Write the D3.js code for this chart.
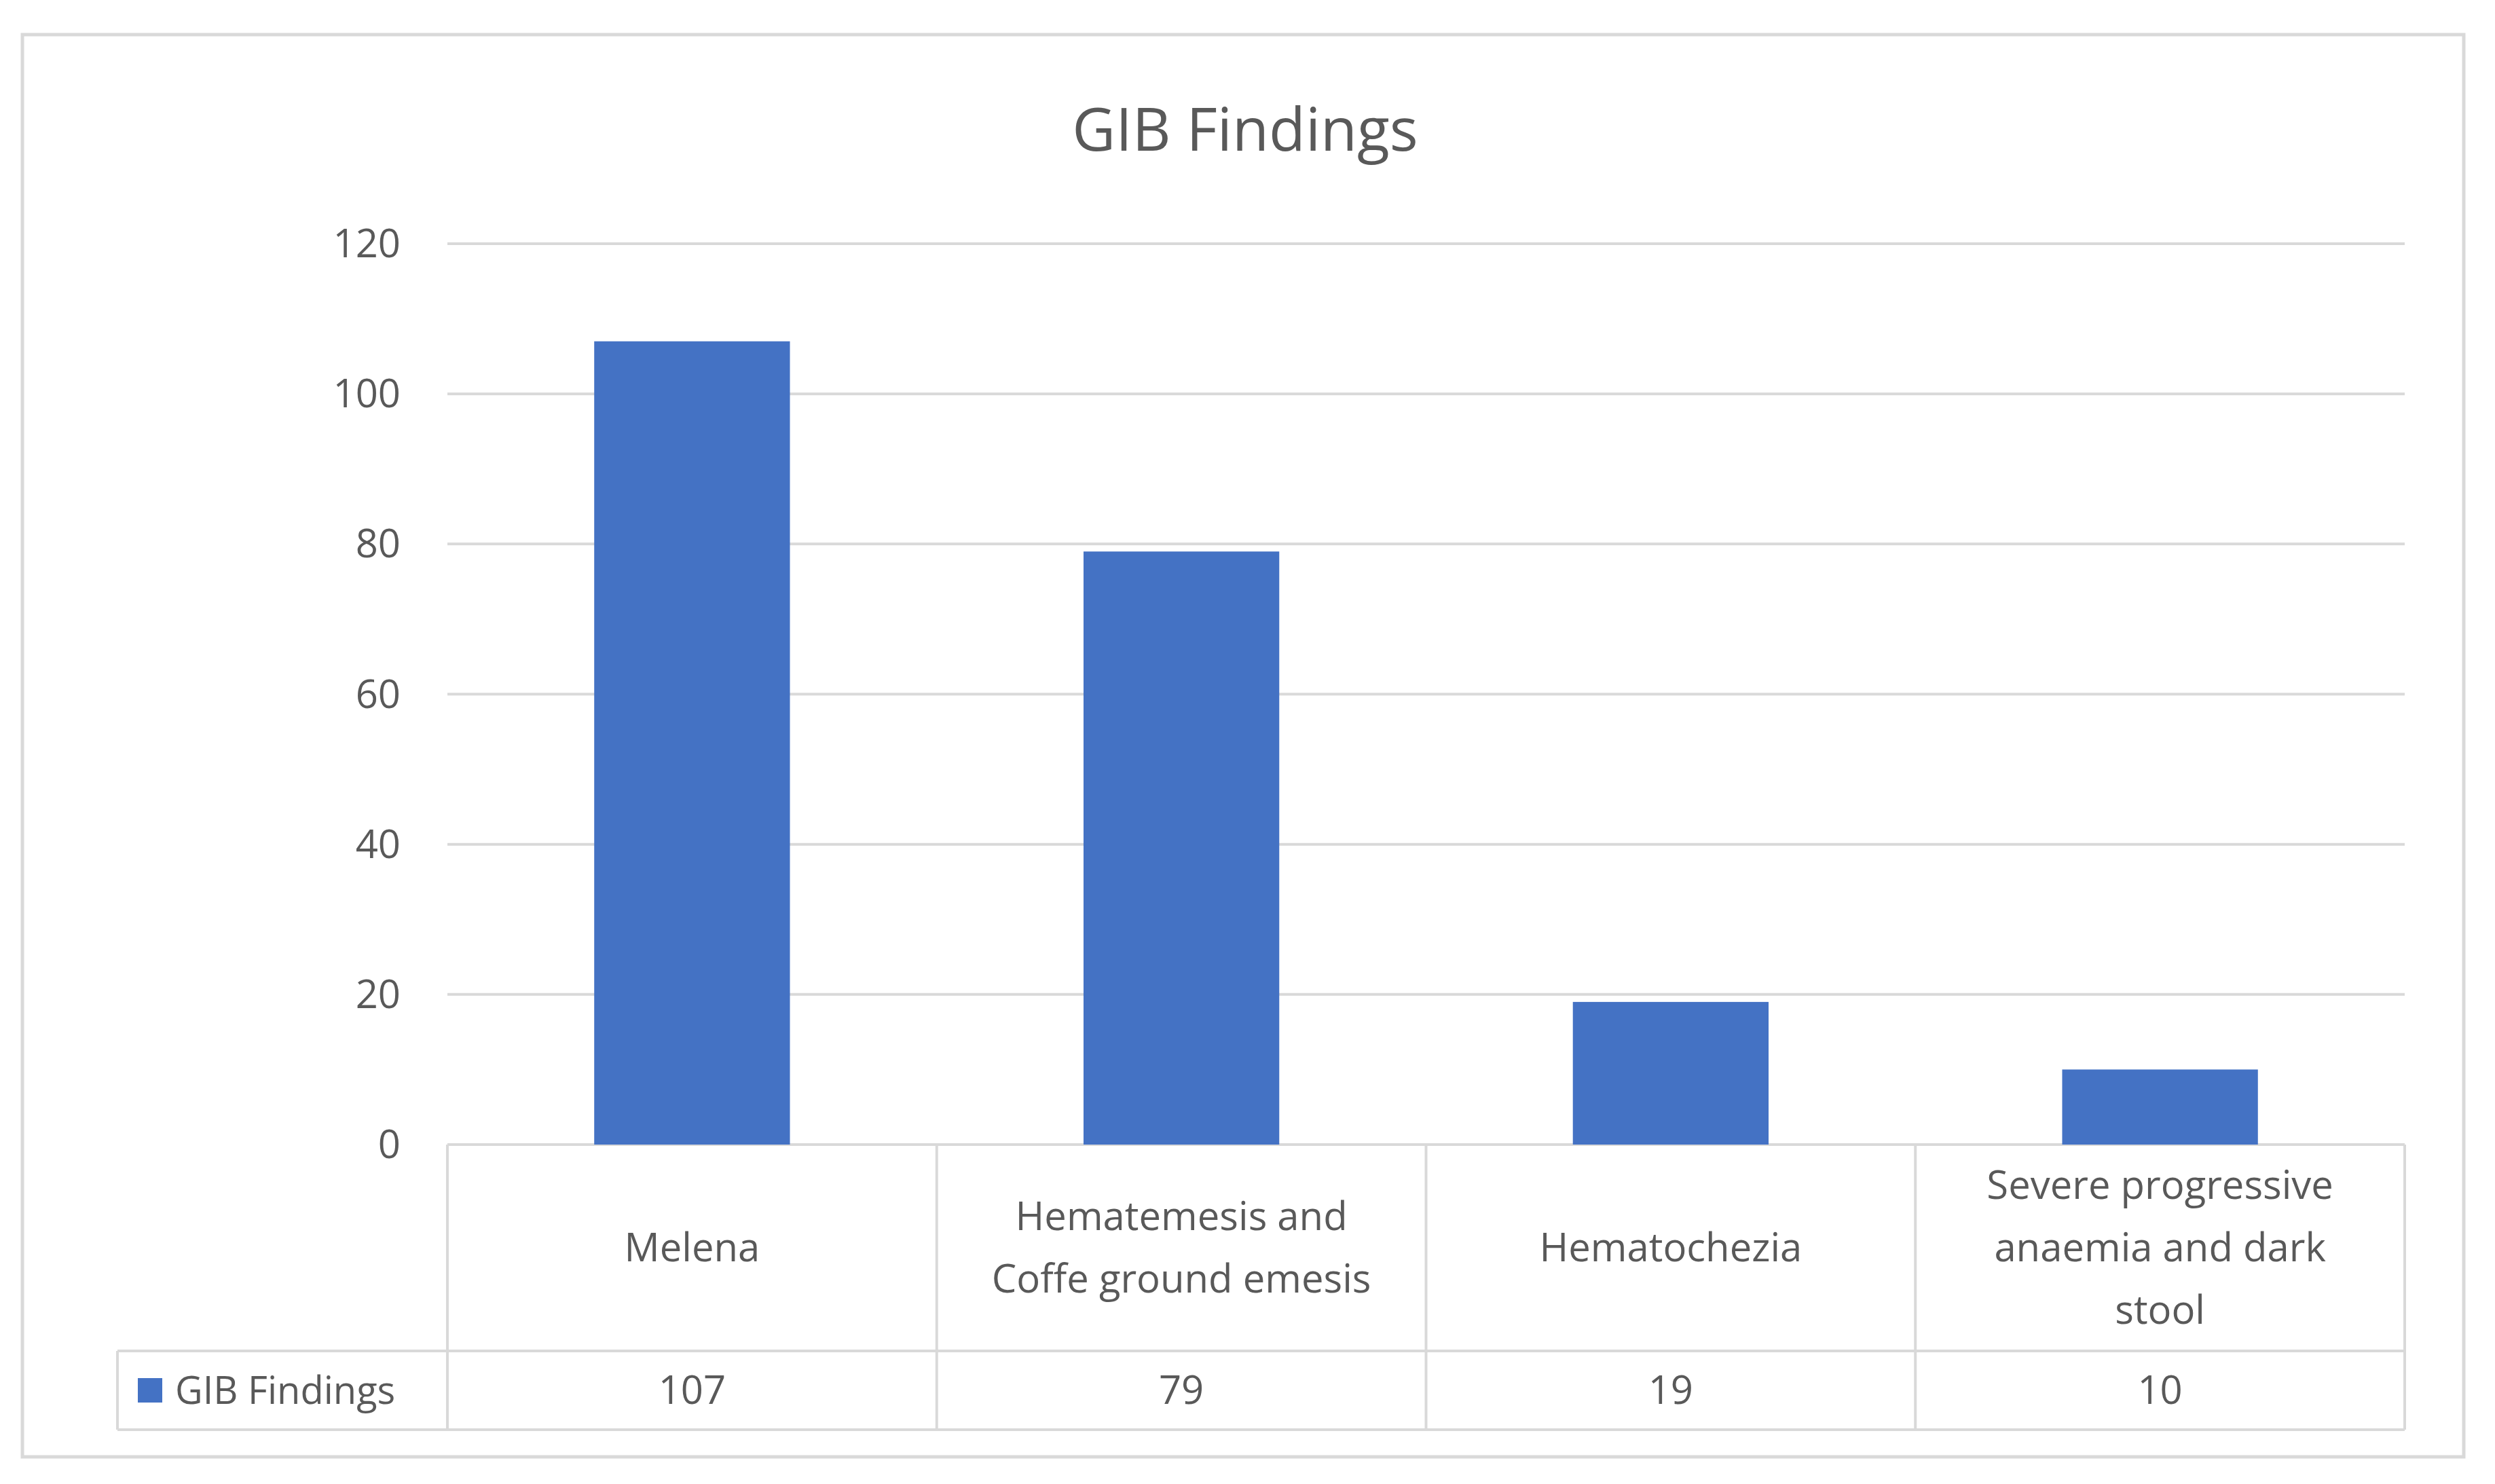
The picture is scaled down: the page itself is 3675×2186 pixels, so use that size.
<!DOCTYPE html>
<html><head><meta charset="utf-8">
<script src="https://cdn.jsdelivr.net/npm/d3@7"></script>
<style>body{margin:0;background:#fff}text{font-family:"Open Sans",sans-serif;fill:#595959}</style>
</head><body><svg id="c" width="3675" height="2186"></svg>
<script>
const categories = [["Melena"], ["Hematemesis and", "Coffe ground emesis"], ["Hematochezia"], ["Severe progressive", "anaemia and dark", "stool"]];
const values = [107, 79, 19, 10];
const yTicks = [0, 20, 40, 60, 80, 100, 120];
const seriesName = "GIB Findings";

const svg = d3.select("#c");
svg.append("rect").attr("x", 33).attr("y", 51).attr("width", 3596).attr("height", 2095)
  .attr("fill", "#fff").attr("stroke", "#d9d9d9").attr("stroke-width", 5);

const plotL = 659, plotR = 3542, plotT = 359, zero = 1686, row1 = 1990, row2 = 2106, legL = 173;
const x = d3.scaleBand().domain(d3.range(values.length)).range([plotL, plotR]).paddingInner(0.6).paddingOuter(0.3);
const band = d3.scaleBand().domain(d3.range(values.length)).range([plotL, plotR]);
const y = d3.scaleLinear().domain([0, 120]).range([zero, plotT]);

svg.append("text").attr("x", 1834).attr("y", 222).attr("text-anchor", "middle")
  .attr("font-size", 88).text(seriesName);

svg.selectAll(".g").data(yTicks).join("line")
  .attr("x1", plotL).attr("x2", plotR).attr("y1", d => y(d)).attr("y2", d => y(d))
  .attr("stroke", "#d9d9d9").attr("stroke-width", 4);
svg.selectAll(".yl").data(yTicks).join("text")
  .attr("x", 590).attr("y", d => y(d) + 20).attr("text-anchor", "end")
  .attr("font-size", 58).text(d => d);

svg.selectAll(".b").data(values).join("rect")
  .attr("x", (d, i) => x(i)).attr("width", x.bandwidth())
  .attr("y", d => y(d)).attr("height", d => zero - y(d)).attr("fill", "#4472C4");

// data table
function line(x1, y1, x2, y2) {
  svg.append("line").attr("x1", x1).attr("y1", y1).attr("x2", x2).attr("y2", y2)
    .attr("stroke", "#d9d9d9").attr("stroke-width", 4);
}
line(plotL, row1, plotR, row1); line(legL, row1, plotL, row1);
line(legL, row2, plotR, row2); line(legL, row1, legL, row2);
[plotL, ...values.map((d, i) => band(i) + band.bandwidth())].forEach(v => line(v, zero, v, row2));

categories.forEach((lines, i) => {
  const cx = band(i) + band.bandwidth() / 2, cy = (zero + row1) / 2;
  lines.forEach((t, j) => {
    svg.append("text").attr("x", cx).attr("y", cy + (j - (lines.length - 1) / 2) * 92 + 20)
      .attr("text-anchor", "middle").attr("font-size", 58).text(t);
  });
  svg.append("text").attr("x", cx).attr("y", (row1 + row2) / 2 + 20)
    .attr("text-anchor", "middle").attr("font-size", 58).text(values[i]);
});
svg.append("rect").attr("x", 203).attr("y", (row1 + row2) / 2 - 18).attr("width", 36).attr("height", 36).attr("fill", "#4472C4");
svg.append("text").attr("x", 258).attr("y", (row1 + row2) / 2 + 20).attr("font-size", 56).text(seriesName);
</script></body></html>
